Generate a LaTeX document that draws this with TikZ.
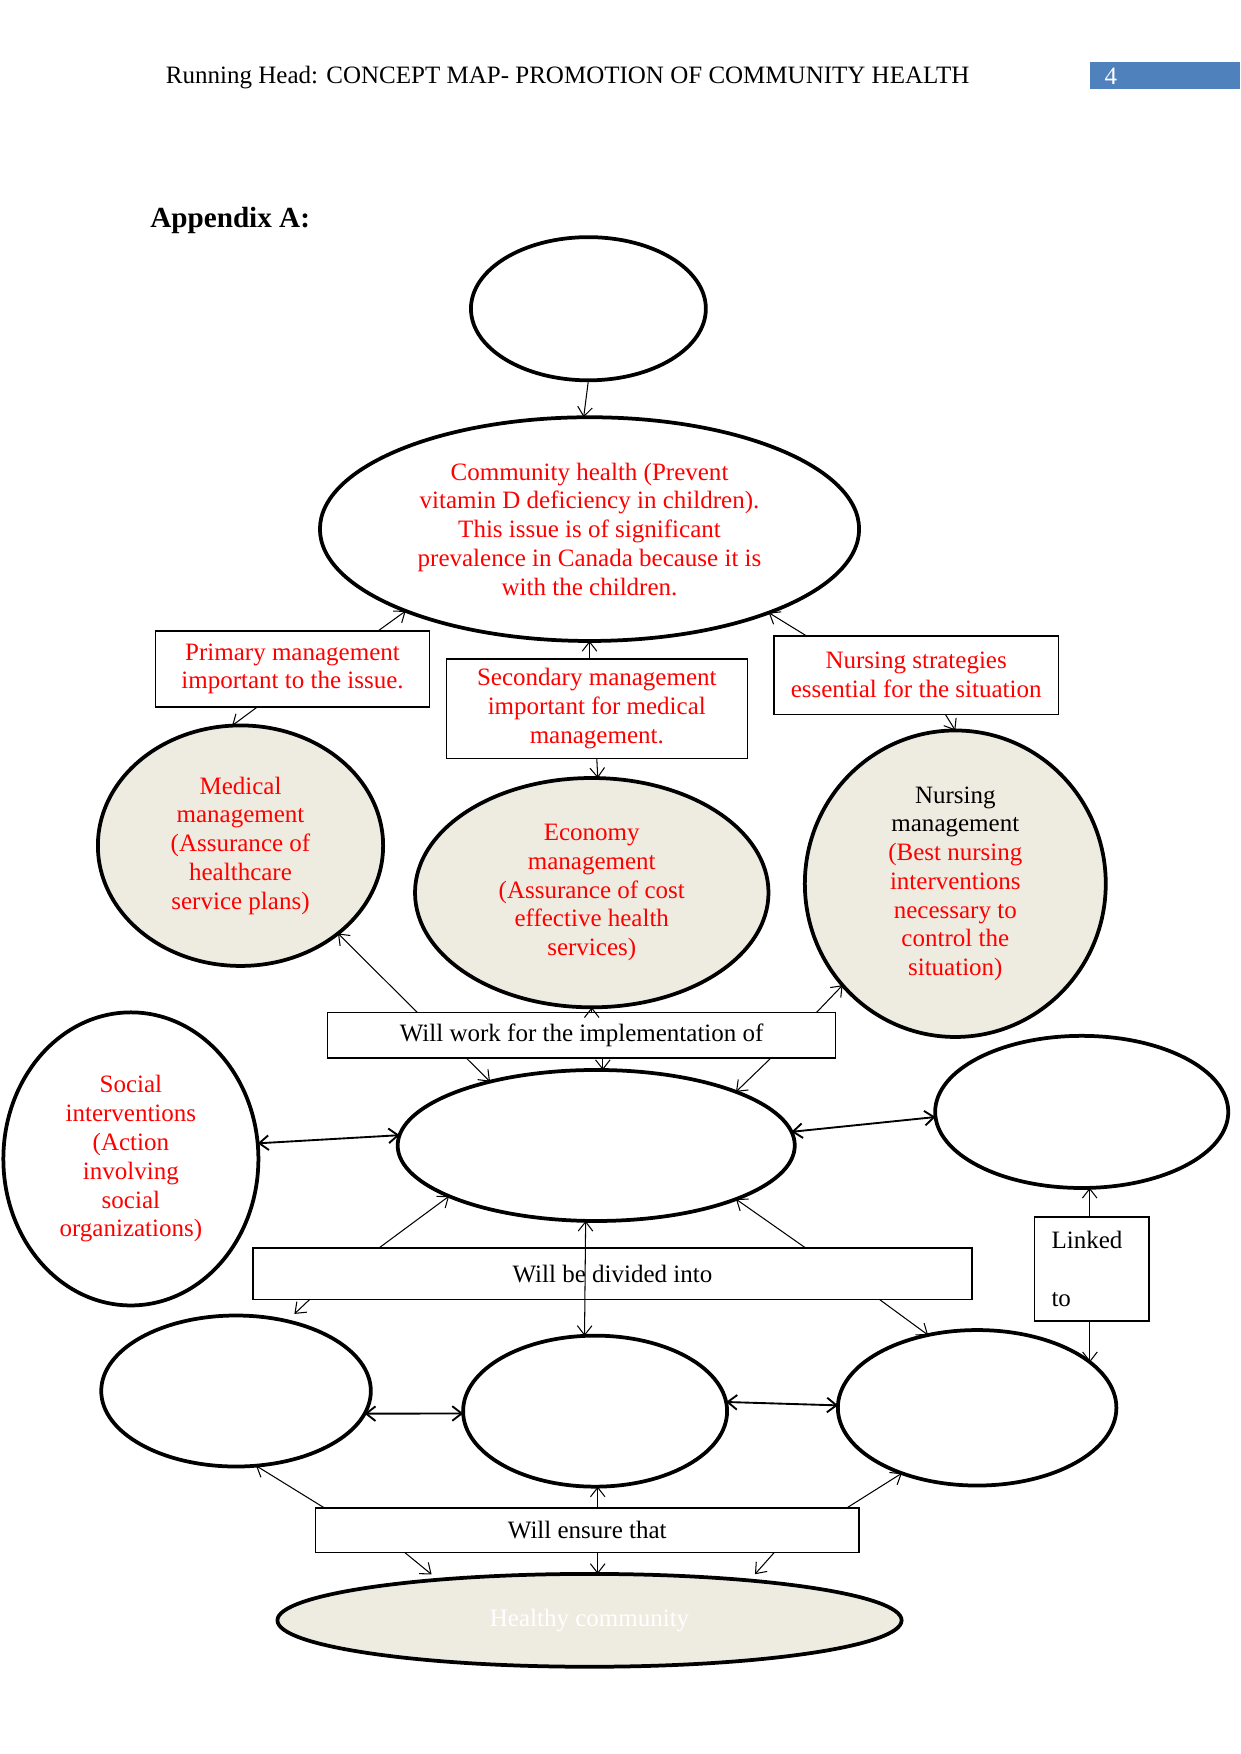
\documentclass[tikz,border=0pt]{standalone}
\usepackage{fontspec}
\setmainfont{Liberation Serif}
\usetikzlibrary{arrows.meta,shapes.geometric,calc}
\definecolor{beige}{HTML}{EEECE1}
\definecolor{cred}{RGB}{255,0,0}
\definecolor{hdrblue}{RGB}{79,129,189}
\begin{document}
\begin{tikzpicture}[x=0.536766pt, y=-0.536766pt,
 pw/.style={minimum width=#1*0.536766pt},
 ph/.style={minimum height=#1*0.536766pt},
 txt/.style={font=\fontsize{12}{13.8}\selectfont},
 ell/.style={ellipse, draw, line width=1.8pt, inner sep=0pt, outer sep=0pt, align=center, txt},
 box/.style={rectangle, draw, line width=0.7pt, inner sep=0pt, outer sep=0pt, align=center, txt},
 con/.style={-{Straight Barb[length=4.5pt,width=7pt]}, line width=0.5pt},
 dcon/.style={{Straight Barb[length=4.5pt,width=7pt]}-{Straight Barb[length=4.5pt,width=7pt]}, line width=0.9pt},
 dthin/.style={{Straight Barb[length=4.5pt,width=7pt]}-{Straight Barb[length=4.5pt,width=7pt]}, line width=0.5pt},
]
\useasboundingbox (0,0) rectangle (1109,1568);
% header
\node[anchor=west, inner sep=0pt, txt] (head) at (148,69) {Running Head: CONCEPT MAP- PROMOTION OF COMMUNITY HEALTH};
\node[fill=hdrblue, draw=none, minimum width=134*0.536766pt, minimum height=24*0.536766pt, inner sep=0pt, anchor=north west] (pg) at (974,55) {};
\node[text=white, inner sep=0pt, txt] (pgnum) at (993,68) {4};
\node[anchor=west, inner sep=0pt, font=\fontsize{14}{16}\selectfont\bfseries] (app) at (134,197) {Appendix A:};

% nodes
\node[ell, pw=210, ph=128] (T) at (526,276) {};
\node[ell, pw=482, ph=200, text=cred] (C) at (527,473) {Community health (Prevent\\vitamin D deficiency in children).\\This issue is of significant\\prevalence in Canada because it is\\with the children.};
\node[box, pw=245, ph=68, text=cred] (P) at (261.5,598) {Primary management\\important to the issue.};
\node[box, pw=269, ph=89, text=cred] (S) at (533.5,633.5) {Secondary management\\important for medical\\management.};
\node[box, pw=254, ph=70, text=cred] (NS) at (819,603.5) {Nursing strategies\\essential for the situation};
\node[ell, fill=beige, pw=255, ph=215, text=cred] (M) at (215,756) {Medical\\management\\(Assurance of\\healthcare\\service plans)};
\node[ell, fill=beige, pw=316, ph=205, text=cred] (E) at (529,798) {Economy\\management\\(Assurance of cost\\effective health\\services)};
\node[ell, fill=beige, pw=269, ph=274] (N) at (854,790) {Nursing\\management\\\textcolor{cred}{(Best nursing}\\\textcolor{cred}{interventions}\\\textcolor{cred}{necessary to}\\\textcolor{cred}{control the}\\\textcolor{cred}{situation)}};
\node[box, pw=454, ph=41] (W) at (520,925.5) {Will work for the implementation of};
\node[ell, pw=355, ph=135] (X) at (533,1024) {};
\node[ell, pw=228, ph=262, text=cred] (SO) at (117,1036) {Social\\interventions\\(Action\\involving\\social\\organizations)};
\node[ell, pw=262, ph=136] (R) at (967,994) {};
\node[box, pw=643, ph=46] (D) at (547.5,1138.5) {Will be divided into};
\node[box, pw=102, ph=93, align=left, text width=72*0.536766pt] (L) at (976,1134.5) {Linked\\[13.8pt]to};
\node[ell, pw=241, ph=135] (BL) at (211,1243.5) {};
\node[ell, pw=236, ph=135] (BM) at (532,1261.5) {};
\node[ell, pw=249, ph=139] (BR) at (873.5,1258.5) {};
\node[box, pw=486, ph=40] (EN) at (525,1368) {Will ensure that};
\node[ell, fill=beige, pw=558, ph=83, text=white] (H) at (527,1448.5) {Healthy community};

% connectors
\draw[con] (T.south) -- (C.93);
\draw[con] ($(P.north)+(76.5,0)$) -- (C.204.5);
\draw[con] ($(P.south)+(-31.5,0)$) -- (M.94);
\draw[con] (S.north -| C.south) -- (C.south);
\draw[con] (S.south) -- (E.87);
\draw[con] ($(NS.north)+(-98,0)$) -- (C.335);
\draw[con] ($(NS.south)+(26,0)$) -- (N.90);
\draw[con] ($(W.north)+(-147,0)$) -- (M.318.7);
\draw[con] ($(W.north)+(210,0)$) -- (N.222.4);
\draw[con] (W.north -| E.south) -- (E.south);
\draw[con] ($(W.south)+(-103,0)$) -- (X.149);
\draw[con] (W.south -| X.85) -- (X.85);
\draw[con] ($(W.south)+(169,0)$) -- (X.21.6);
\draw[dcon] (SO.7) -- (X.177);
\draw[dcon] (X.4) -- (R.182.6);
\draw[con] ($(D.north)+(-208.5,0)$) -- (X.199);
\draw[con] ($(D.north)+(172.5,0)$) -- (X.339.5);
\draw[dthin] (X.262) -- (BM.98);
\draw[con, shorten >=5pt] ($(D.south)+(-270.5,0)$) -- (BL.54);
\draw[con] ($(D.south)+(238.5,0)$) -- (BR.124);
\draw[con] (R.276 |- L.north) -- (R.276);
\draw[con] (BR.22 |- L.south) -- (BR.22);
\draw[dcon] (BL.350) -- (BM.181);
\draw[dcon] (BM.4) -- (BR.179);
\draw[con] ($(EN.north)+(-235,0)$) -- (BL.285.7);
\draw[con] (BM.272 |- EN.north) -- (BM.272);
\draw[con] ($(EN.north)+(232,0)$) -- (BR.221.2);
\draw[con, shorten >=4pt] ($(EN.south)+(-163,0)$) -- (H.165);
\draw[con] (H.80 |- EN.south) -- (H.80);
\draw[con, shorten >=4pt] ($(EN.south)+(167,0)$) -- (H.14);
\end{tikzpicture}
\end{document}
